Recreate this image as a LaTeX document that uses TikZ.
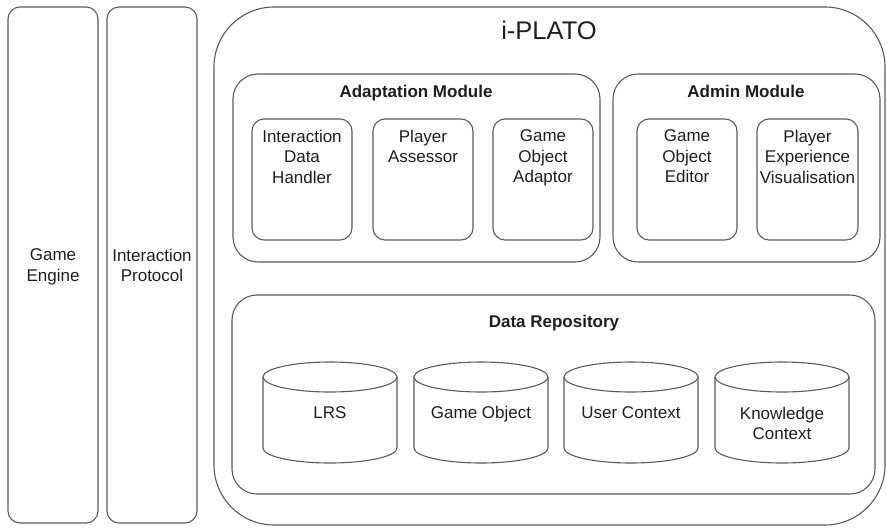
\documentclass[tikz,border=0pt]{standalone}
\usepackage{fontspec}
\setmainfont{Liberation Sans}
\definecolor{edge}{HTML}{5A5A5A}
\definecolor{ink}{HTML}{1E1E1E}
\tikzset{
  frame/.style={draw=edge, line width=1.1pt, rounded corners=#1, inner sep=0pt},
  frame/.default=12pt,
  txt/.style={text=ink, font=\fontsize{17}{20.5}\selectfont, align=center, inner sep=0pt},
  btxt/.style={txt, font=\fontsize{17}{20.5}\selectfont\bfseries},
  dbline/.style={draw=edge, line width=1.1pt}
}
% cylinder outline: centre x, top y, bottom y, x radius, y radius (y measured downwards)
\newcommand\dbcylinder[5]{%
  \draw[dbline] (#1,-#2-#5) ellipse [x radius=#4, y radius=#5];
  \draw[dbline] (#1-#4,-#2-#5) -- (#1-#4,-#3+#5)
     arc[start angle=180, end angle=360, x radius=#4, y radius=#5]
     -- (#1+#4,-#2-#5);
}
\begin{document}
\begin{tikzpicture}[x=1pt,y=1pt]
\useasboundingbox (0,0) rectangle (887,-528);

% side columns
\draw[frame] (8,-7) rectangle (98,-523);
\node[txt, anchor=north] (engine) at (53,-248.6) {Game\\Engine};
\draw[frame] (107,-7) rectangle (197,-523);
\node[txt, anchor=north] (protocol) at (152,-248.6) {Interaction\\Protocol};

% main system frame
\draw[frame=60pt] (214,-7) rectangle (885,-525);
\node[txt, font=\fontsize{25.5}{30}\selectfont, anchor=base] (iplato) at (549,-39) {i-PLATO};

% adaptation module
\draw[frame=25pt] (233,-74) rectangle (600,-262);
\node[btxt, anchor=base] (adapt) at (416,-97) {Adaptation Module};
\draw[frame] (252,-119) rectangle (352,-240);
\node[txt, anchor=north] (idh) at (302,-129.6) {Interaction\\Data\\Handler};
\draw[frame] (373,-119) rectangle (473,-240);
\node[txt, anchor=north] (pa) at (423,-129.6) {Player\\Assessor};
\draw[frame] (493,-119) rectangle (593,-240);
\node[txt, anchor=north] (goa) at (543,-129.6) {Game\\Object\\Adaptor};

% admin module
\draw[frame=25pt] (613,-74) rectangle (880,-262);
\node[btxt, anchor=base] (admin) at (746,-97) {Admin Module};
\draw[frame] (637,-119) rectangle (737,-240);
\node[txt, anchor=north] (goe) at (687,-129.6) {Game\\Object\\Editor};
\draw[frame] (757,-119) rectangle (858,-240);
\node[txt, anchor=north] (pev) at (807.5,-129.6) {Player\\Experience\\Visualisation};

% data repository
\draw[frame=25pt] (232,-295) rectangle (875,-494);
\node[btxt, anchor=base] (repo) at (554,-327) {Data Repository};
\dbcylinder{330}{362}{463}{67}{15}
\node[txt, anchor=base] (lrs) at (330,-418) {LRS};
\dbcylinder{481}{362}{463}{67}{15}
\node[txt, anchor=base] (gobj) at (481,-418) {Game Object};
\dbcylinder{631}{362}{463}{67}{15}
\node[txt, anchor=base] (uctx) at (631,-418) {User Context};
\dbcylinder{782}{362}{463}{67}{15}
\node[txt, anchor=north] (kctx) at (782,-406.6) {Knowledge\\Context};
\end{tikzpicture}
\end{document}
